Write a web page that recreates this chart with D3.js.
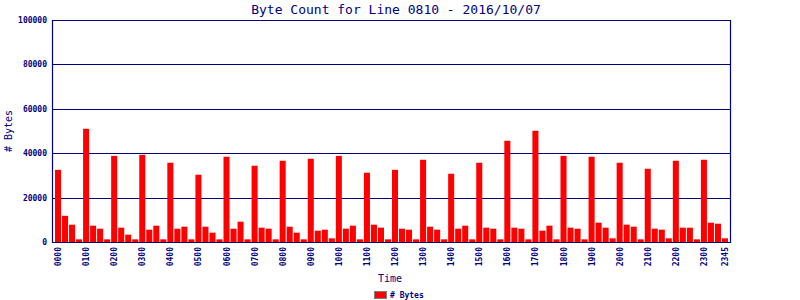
<!DOCTYPE html>
<html>
<head>
<meta charset="utf-8">
<script src="https://cdn.jsdelivr.net/npm/d3@7"></script>
<style>
  body { margin: 0; background: #fff; }
  text { font-family: "DejaVu Sans Mono", monospace; fill: #000080; }
</style>
</head>
<body>
<svg id="chart" width="800" height="300"></svg>
<script>
// one bar every 15 minutes
const hours = d3.range(24).map(h => String(h).padStart(2, '0'))
const quarters = ['00', '15', '30', '45']
const times = hours.flatMap(h => quarters.map(q => h + q))

const bytes = [
  32500, 11800, 7800, 1200,   // 00
  51000, 7350, 6000, 1200,    // 01
  38800, 6450, 3300, 1200,    // 02
  39250, 5550, 7350, 1200,    // 03
  35700, 6000, 6900, 1200,    // 04
  30300, 6900, 4200, 1200,    // 05
  38400, 6000, 9150, 1200,    // 06
  34350, 6450, 6000, 1200,    // 07
  36600, 6900, 4200, 1200,    // 08
  37500, 5100, 5550, 1650,    // 09
  38800, 6000, 7350, 1200,    // 10
  31200, 7800, 6450, 1200,    // 11
  32500, 6000, 5550, 1200,    // 12
  37050, 6900, 5550, 1200,    // 13
  30750, 6000, 7350, 1200,    // 14
  35700, 6450, 6000, 1200,    // 15
  45600, 6450, 6000, 1200,    // 16
  50100, 5100, 7350, 1200,    // 17
  38800, 6450, 6000, 1200,    // 18
  38400, 8700, 6450, 1650,    // 19
  35700, 7800, 6900, 1200,    // 20
  33000, 6000, 5550, 1650,    // 21
  36600, 6450, 6450, 1200,    // 22
  37050, 8700, 8250, 1650     // 23
]

const yTicks = [0, 20000, 40000, 60000, 80000, 100000]
const xTickLabels = hours.map(h => h + '00').concat(['2345'])

const navy = '#000080'
const plotLeft = 52, plotRight = 730, plotTop = 20, plotBottom = 242

const svg = d3.select('#chart')

const x = d3.scaleBand().domain(times).range([plotLeft + 3, plotRight - 2]).paddingInner(0.14)
const y = d3.scaleLinear().domain([0, 100000]).range([plotBottom, plotTop])

// title
svg.append('text')
  .attr('x', 396).attr('y', 14)
  .attr('text-anchor', 'middle')
  .style('font-size', '13px')
  .text('Byte Count for Line 0810 - 2016/10/07')

// grid lines
svg.append('g')
  .selectAll('line')
  .data(yTicks)
  .enter()
  .append('line')
  .attr('x1', plotLeft).attr('x2', plotRight)
  .attr('y1', d => Math.round(y(d)) + 0.5)
  .attr('y2', d => Math.round(y(d)) + 0.5)
  .attr('stroke', navy)
  .attr('stroke-width', 1.2)

// bars
svg.append('g')
  .selectAll('rect')
  .data(bytes)
  .enter()
  .append('rect')
  .attr('x', (d, i) => x(times[i]))
  .attr('width', x.bandwidth())
  .attr('y', d => y(d))
  .attr('height', d => y(0) - y(d))
  .attr('fill', '#ff0000')

// frame sides
svg.append('line')
  .attr('x1', plotLeft + 0.5).attr('x2', plotLeft + 0.5)
  .attr('y1', plotTop).attr('y2', plotBottom + 1)
  .attr('stroke', navy).attr('stroke-width', 1.2)
svg.append('line')
  .attr('x1', plotRight + 0.5).attr('x2', plotRight + 0.5)
  .attr('y1', plotTop).attr('y2', plotBottom + 1)
  .attr('stroke', navy).attr('stroke-width', 1.2)

// y axis labels
const yAxis = svg.append('g')
  .attr('transform', 'translate(' + (plotLeft - 5) + ',0)')
  .call(d3.axisLeft(y).tickValues(yTicks).tickSize(0).tickPadding(0).tickFormat(d3.format('d')))
yAxis.select('.domain').remove()
yAxis.selectAll('text')
  .style('font-size', '8px')
  .style('font-weight', 'bold')
  .attr('fill', navy)

// x axis labels, rotated
svg.append('g')
  .selectAll('text')
  .data(xTickLabels)
  .enter()
  .append('text')
  .attr('transform', d => 'translate(' + (x(d) + x.bandwidth() / 2 + 3) + ',' + (plotBottom + 5) + ') rotate(-90)')
  .attr('text-anchor', 'end')
  .style('font-size', '8px')
  .style('font-weight', 'bold')
  .text(d => d)

// axis titles
svg.append('text')
  .attr('x', 390).attr('y', 282)
  .attr('text-anchor', 'middle')
  .style('font-size', '10px')
  .text('Time')

svg.append('text')
  .attr('transform', 'translate(12,131) rotate(-90)')
  .attr('text-anchor', 'middle')
  .style('font-size', '10px')
  .text('# Bytes')

// legend
svg.append('rect')
  .attr('x', 374.5).attr('y', 291.5)
  .attr('width', 12).attr('height', 7)
  .attr('fill', '#ff0000')
  .attr('stroke', '#808080')
svg.append('text')
  .attr('x', 390).attr('y', 298)
  .style('font-size', '8px')
  .style('font-weight', 'bold')
  .text('# Bytes')
</script>
</body>
</html>
